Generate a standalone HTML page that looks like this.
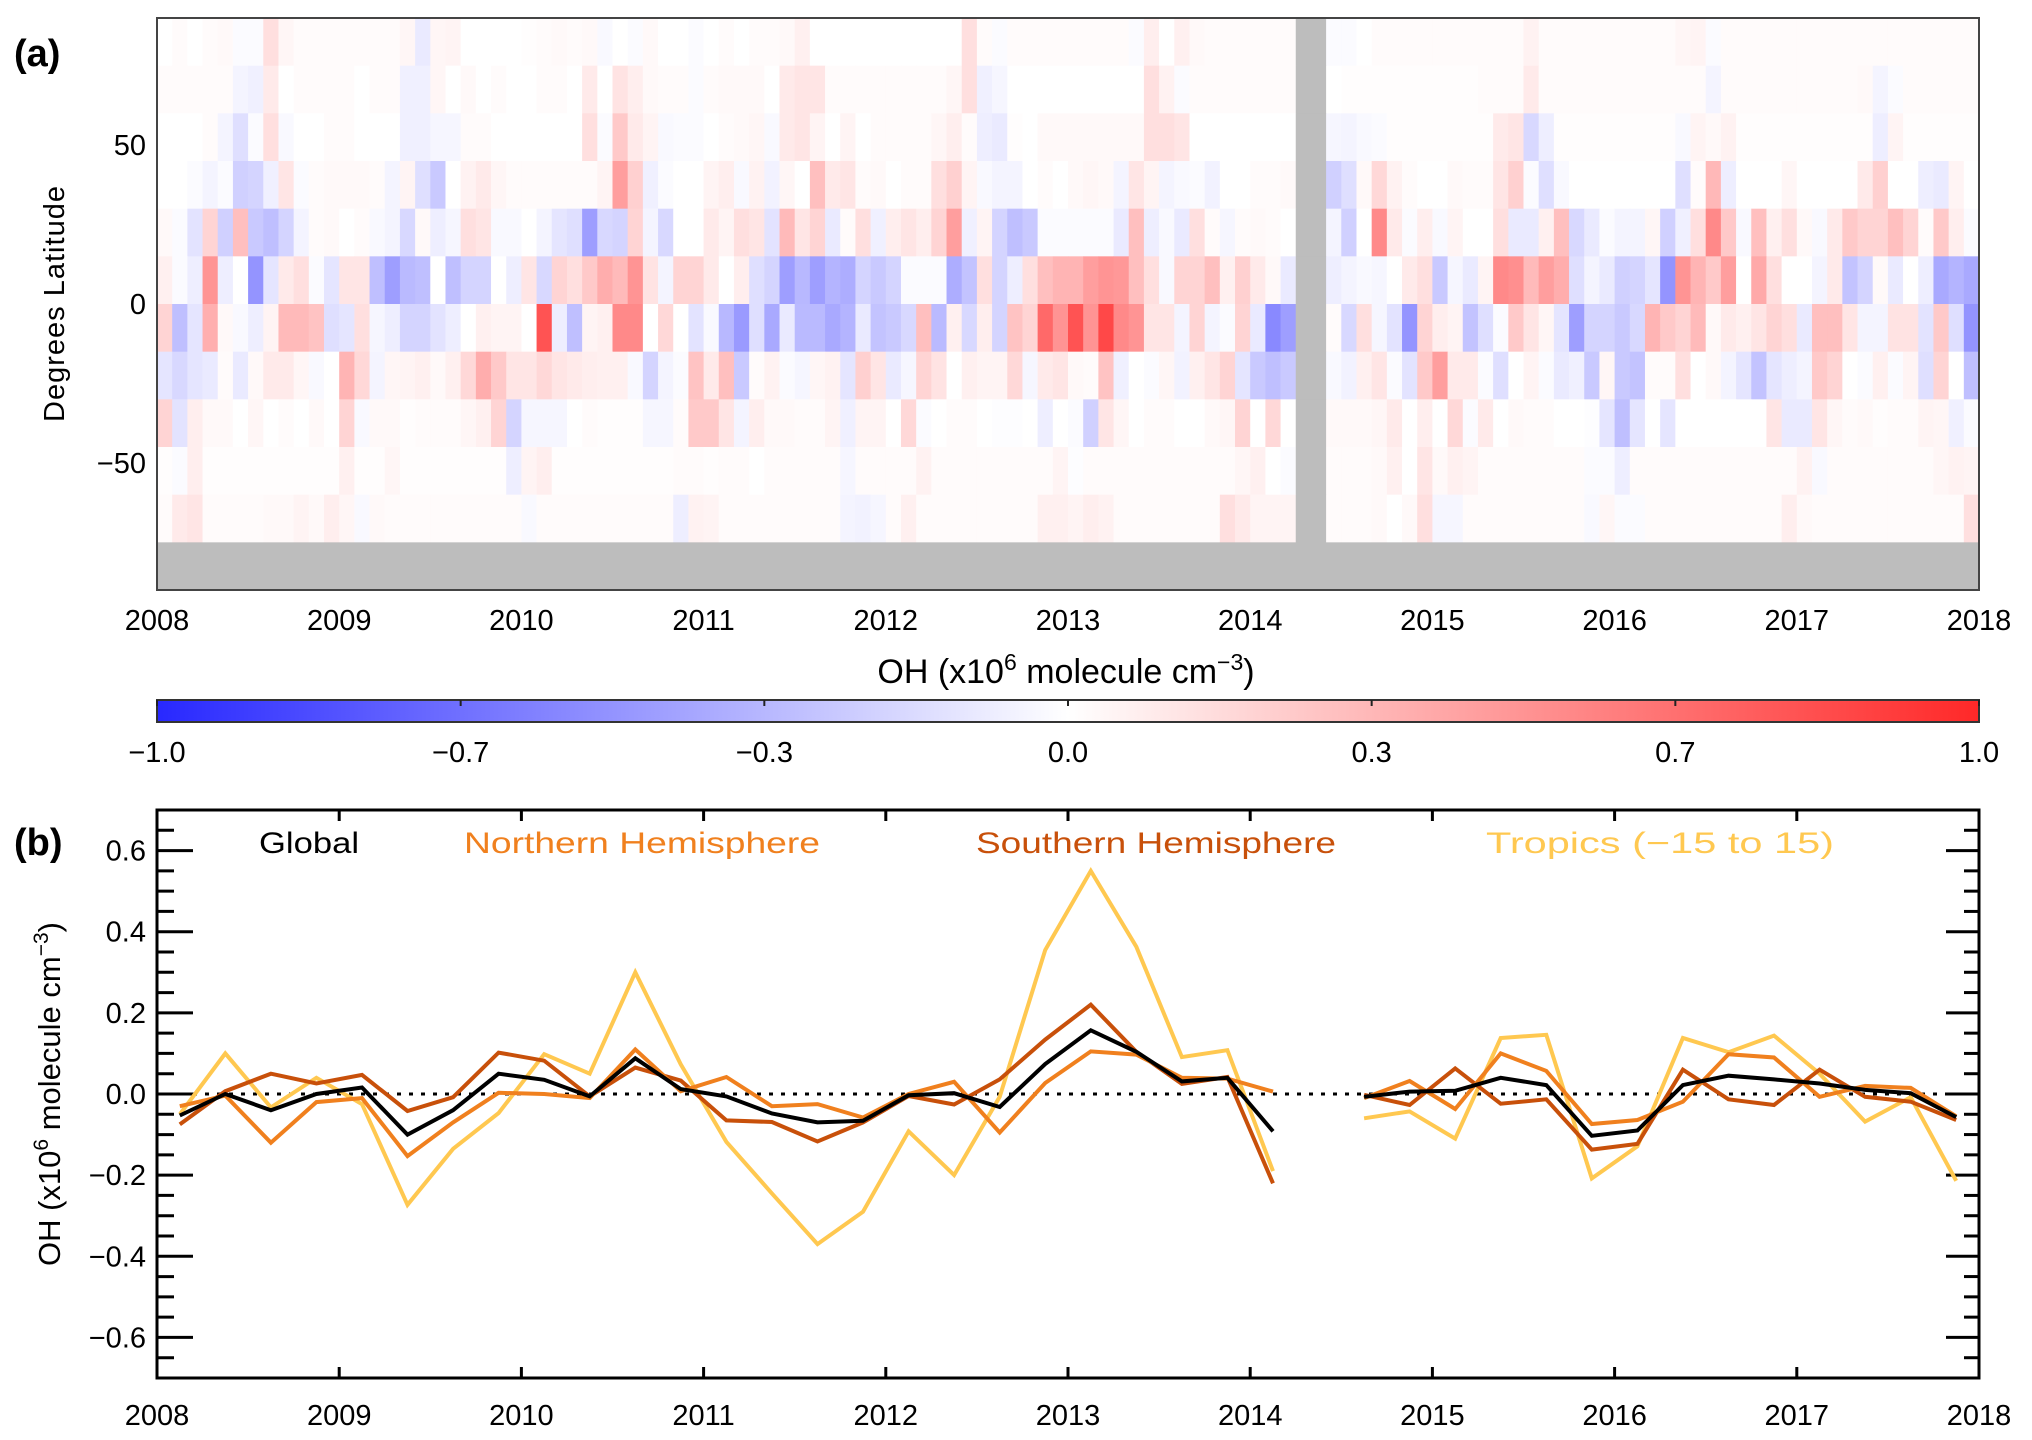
<!DOCTYPE html>
<html><head><meta charset="utf-8">
<style>
html,body{margin:0;padding:0;background:#fff;}
svg{display:block;font-family:"Liberation Sans","DejaVu Sans",sans-serif;}
</style></head>
<body>
<svg id="fig" width="2032" height="1440" viewBox="0 0 2032 1440" xmlns="http://www.w3.org/2000/svg">
<defs>
<linearGradient id="cbgrad" x1="0" x2="1" y1="0" y2="0">
<stop offset="0" stop-color="rgb(40,40,255)"/>
<stop offset="0.5" stop-color="rgb(255,255,255)"/>
<stop offset="1" stop-color="rgb(255,40,40)"/>
</linearGradient>
</defs>
<g id="heat"></g>
<g id="cbar"></g>
<g id="lines"></g>
</svg>
<script>
// ---------- Heatmap data (monthly anomalies, Jan 2008 .. Dec 2017), rows from 90N down to -75 ----------
const latBands = ["75-90N","60-75N","45-60N","30-45N","15-30N","0-15N","0-15S","15-30S","30-45S","45-60S","60-75S"];
const tickYears = [2008,2009,2010,2011,2012,2013,2014,2015,2016,2017,2018];
const latTicks = [50,0,-50];
const cbTickLabels = ["\u22121.0","\u22120.7","\u22120.3","0.0","0.3","0.7","1.0"];
const cbTickValues = [-1,-2/3,-1/3,0,1/3,2/3,1];
const row0 = [0,.02,0,.02,.03,-.02,-.02,.15,.04,.02, .02,.02,.02,.02,.02,.02,.04,-.1,.04,.05, 0,0,0,0,.01,.02,.03,.02,.03,-.03, 0,-.02,.03,0,0,-.02,0,.02,0,.02,
 .02,.03,.07,0,0,0,0,0,0,0, 0,0,0,.15,.02,-.02,.02,.02,.02,.02, .02,.02,.02,.02,-.02,.08,0,.07,.03,.02, .02,.02,.02,.02,.02,null,null,-.02,-.02,0,
 .02,.02,.02,.02,.02,.02,.02,.02,.02,.02, .06,.02,.02,.02,.02,.02,.02,.02,.02,.02, .04,.05,-.02,.02,.02,.02,.02,.02,.02,.02, .02,.02,.02,.02,.02,.02,.02,.02,.02,.02];
const row1 = [.02,.02,.02,.02,.02,-.05,-.07,.1,0,.02, .02,.02,.02,0,.02,.02,-.07,-.07,.04,0, .03,0,.02,0,0,.02,.02,0,.1,0, .13,.08,.03,.02,.02,-.02,.02,.03,.03,.03,
 0,.1,.12,.12,.02,.02,.02,.02,.02,.02, .02,.02,.04,.15,-.07,-.04,0,0,0,0, 0,0,0,0,0,.15,.06,-.02,.02,.02, .02,.02,.02,.02,.02,null,null,0,.01,.01,
 .01,.01,.01,.01,.01,.01,.01,.02,.02,.02, .1,.02,.02,.02,.02,.02,.02,.02,.02,.02, .02,.02,-.05,.02,.02,.02,.02,.02,.02,.02, .02,.02,.03,-.05,-.02,.02,.02,.02,.02,.02];
const row2 = [0,0,0,.02,-.05,-.15,-.02,.15,-.03,0, 0,.02,.02,0,0,0,-.07,-.07,-.04,-.04, .02,.02,0,0,0,0,0,0,.15,-.02, .25,.1,.05,-.03,-.02,-.02,0,.02,.03,.04,
 -.03,.1,.12,.05,0,.05,0,.02,.02,.02, .02,.04,.08,.02,-.08,-.1,.01,0,.03,.03, .03,.03,.03,.03,.03,.15,.15,.12,0,0, 0,0,0,0,0,null,null,-.04,-.05,-.03,
 -.02,.01,.01,.01,.01,.01,.01,.01,.1,.12, -.18,-.08,.01,.01,.01,.01,.01,.01,.01,.01, -.03,.05,.03,.06,.01,.01,.01,.01,.01,.01, .01,.01,.01,-.08,.05,.01,.01,.01,.01,.01];
const row3 = [0,0,-.02,-.05,-.02,-.22,-.2,-.07,.12,-.02, .02,.03,.03,.03,.02,-.05,.05,-.15,-.25,0, .06,.1,.04,.02,.02,.02,.02,.02,.02,.05, .45,.22,-.07,-.02,0,0,.05,.08,-.03,.06,
 -.06,.04,0,.3,.1,.12,.02,.03,0,.02, .02,.15,.22,.05,-.03,-.05,-.05,0,.02,0, .03,.04,.03,-.05,.12,.05,-.05,-.03,-.02,-.06, 0,0,.02,.02,.03,null,null,-.22,-.15,.03,
 .18,.06,.02,0,0,.03,.02,.02,.12,.22, -.02,-.15,-.03,0,0,0,0,0,0,0, -.15,.02,.33,-.08,0,0,0,.04,0,0, 0,0,.1,.22,0,0,-.08,-.1,.05,0];
const row4 = [.03,-.02,-.13,.2,-.22,.3,-.25,-.3,-.2,-.05, .02,.03,0,.02,-.03,-.05,-.18,.03,-.08,-.04, .15,.12,-.03,-.03,0,-.05,-.12,-.15,-.45,-.18, -.2,.2,-.05,-.18,0,0,.1,.05,.15,.12,
 -.13,.32,.12,.2,-.1,.02,.15,-.07,.08,.12, .08,.2,.45,-.07,.05,-.2,-.3,-.25,-.02,-.02, -.02,-.02,-.02,-.1,.3,-.08,-.03,-.1,.15,.02, -.04,.02,.03,.02,0,null,null,-.05,-.22,0,
 .55,.1,-.02,.08,-.03,.05,0,0,.15,-.1, -.1,.07,.3,-.18,-.1,-.02,-.05,-.05,.04,-.22, -.07,.15,.55,.25,-.03,.3,.07,.15,.03,-.03, .1,.25,.2,.2,.3,.2,.02,.25,.08,-.02];
const row5 = [.07,-.02,-.08,.5,-.08,0,-.5,-.12,.1,.15, -.02,-.12,.12,.12,-.3,-.45,-.32,-.3,0,-.3, -.2,-.2,0,-.08,.12,-.18,.2,.15,.25,.38, .32,.5,.13,-.05,.2,.2,.1,0,.08,-.15,
 -.2,-.45,-.33,-.45,-.35,-.38,-.2,-.25,-.2,-.02, -.02,-.02,-.38,-.28,.15,-.2,-.08,.15,.3,.35, .35,.45,.5,.48,.3,.15,-.03,.2,.2,.3, .07,.22,.1,.03,-.1,null,null,-.08,-.05,-.03,
 -.04,0,.1,.15,-.25,-.04,-.1,.05,.55,.52, .32,.45,.38,-.15,-.05,-.1,-.22,-.2,-.12,-.5, .5,.35,.25,.45,0,.4,.15,0,0,-.05, .1,-.28,-.2,.03,-.1,0,-.08,-.4,-.35,-.4];
const row6 = [.2,-.3,-.12,.37,.03,-.03,-.08,.05,.32,.32, .28,-.15,-.12,.15,-.04,-.08,-.2,-.2,-.13,-.08, 0,.07,.05,.05,0,.8,-.08,-.3,.05,.07, .55,.55,0,.18,0,-.13,-.03,-.33,-.47,-.15,
 -.4,-.1,-.32,-.32,-.4,-.35,-.1,-.28,-.25,-.18, .3,-.32,.07,-.18,.08,-.2,.28,.2,.7,.5, .8,.5,.85,.55,.5,.12,.12,-.05,.2,-.05, -.02,.2,-.1,-.55,-.45,null,null,.02,-.18,.15,
 -.04,-.13,-.5,.2,.08,.05,-.28,-.15,-.02,.25, .12,.04,-.12,-.45,-.2,-.2,-.25,-.18,.35,.25, .2,.32,.03,.1,.07,.12,.2,.15,-.1,.3, .3,.12,-.05,-.05,.13,.13,-.13,.25,-.15,-.5];
const row7 = [-.12,-.18,-.12,-.1,.02,-.1,.03,.1,.1,.04, -.03,0,.35,.18,-.05,.04,.05,.07,.03,.07, .18,.38,.25,.12,.12,.18,.12,.1,.08,.07, .07,-.03,-.2,-.05,-.02,.28,.1,.3,-.25,.02,
 .06,-.02,-.04,.04,.06,-.12,.22,.12,-.1,-.04, .2,.13,0,.07,.05,.05,.18,-.04,.1,.12, .03,.02,.28,-.07,0,-.02,.04,-.06,.07,.12, .2,-.12,-.25,-.3,-.25,null,null,-.03,-.06,.07,
 .12,-.02,-.13,.25,.45,.1,.1,-.02,-.15,0, .05,-.02,-.1,-.07,-.25,.04,-.25,-.28,.02,.02, .15,0,.03,-.05,-.12,-.28,-.12,-.08,-.05,.25, .2,0,-.02,.07,-.02,.05,-.15,.2,0,-.3];
const row8 = [.2,-.13,.08,.03,.03,0,.04,0,.02,0, .03,0,.2,-.03,.03,.03,.01,.02,.02,.02, .04,.07,.2,-.2,-.04,-.04,-.04,0,.02,.01, .01,.01,-.04,-.04,.02,.25,.25,.12,-.05,.08,
 .03,.03,.02,.02,.05,-.07,.05,.05,0,.18, -.02,0,.02,.02,0,-.01,-.01,0,-.08,0, -.02,-.22,.12,.04,0,.02,.02,0,0,.03, .04,.2,0,.18,0,null,null,.03,.03,.03,
 .04,.1,0,.08,0,.18,-.02,.1,0,.03, .02,.02,0,0,-.01,-.12,-.3,-.12,0,-.12, 0,0,0,0,0,0,.12,-.1,-.1,.12, .04,.02,.03,.01,.02,.02,.05,.04,-.07,-.02];
const row9 = [.01,-.02,.08,.01,.01,.01,.01,.01,.01,.01, .01,.01,.07,.01,.01,.04,.01,.01,.01,.01, .01,.01,.01,-.08,.05,.08,.01,.01,.01,.01, .01,.01,.01,.01,.02,.02,.01,.02,.02,0,
 .02,.02,.02,.02,.02,-.04,.02,.02,.02,.02, .06,.02,.02,.02,.02,.02,.02,.02,.02,.05, -.01,.02,.02,.02,.02,.02,.02,.02,.02,.02, .02,.04,.07,0,-.02,null,null,.02,.02,.02,
 .03,.07,0,.12,.03,.07,.05,.02,.02,.02, .02,.02,.02,.02,-.02,-.02,-.08,.02,.02,.02, .02,.02,.02,.02,.02,.02,.02,.02,.06,-.03, .02,.02,.02,.02,.02,.02,.02,.04,.06,.05];
const row10 = [.02,.1,.12,.02,.02,.02,.02,.03,.03,.05, .03,.08,.04,-.03,.03,.02,.02,.02,.02,.02, .02,.02,.02,.02,-.03,.02,.02,.02,.02,.02, .02,.02,.02,.02,-.08,.06,.05,.02,.02,.02,
 .02,.02,.02,.02,.02,-.05,-.06,-.04,.02,.07, .02,.02,.02,.02,.02,.02,.02,.02,.07,.07, .05,.08,.06,.02,.02,.02,.02,.02,.02,.02, .15,.1,.05,.05,.05,null,null,.02,.02,.02,
 .03,0,.03,.15,-.04,-.04,.02,.02,.02,.02, .02,.02,.02,.02,-.03,.04,-.02,-.02,.02,.02, .02,.02,.02,.02,.02,.02,.02,.08,.03,.02, .02,.02,.02,.02,.02,.02,.02,.02,.02,.15];
const heatRows = [row0,row1,row2,row3,row4,row5,row6,row7,row8,row9,row10];

// ---------- Line chart data (seasonal means, index 25 = data gap) ----------
const seasonIndex = Array.from({length:40},(_,i)=>i);
const globalVals = [-.053,0,-.04,0,.016,-.1,-.04,.05,.035,-.006,.088,.012,-.006,-.048,-.07,-.066,-.003,.002,-.032,.074,.157,.104,.031,.04,-.092,null,-.007,.006,.008,.04,.022,-.103,-.09,.022,.045,.036,.026,.01,.002,-.057];
const nhVals = [-.03,-.004,-.12,-.02,-.01,-.153,-.07,.003,0,-.01,.11,.007,.042,-.03,-.025,-.058,0,.03,-.095,.027,.105,.097,.04,.038,.006,null,-.01,.032,-.037,.1,.057,-.074,-.064,-.019,.098,.09,-.007,.02,.015,-.055];
const shVals = [-.075,.007,.05,.026,.047,-.042,-.008,.102,.082,-.006,.065,.033,-.065,-.069,-.117,-.07,-.005,-.026,.036,.134,.22,.104,.025,.042,-.22,null,-.002,-.027,.063,-.024,-.013,-.137,-.123,.06,-.013,-.027,.06,-.007,-.019,-.064];
const tropVals = [-.05,.1,-.033,.04,-.025,-.273,-.135,-.047,.098,.05,.3,.073,-.118,-.245,-.37,-.29,-.092,-.2,-.007,.355,.55,.363,.091,.108,-.19,null,-.06,-.043,-.11,.138,.146,-.208,-.129,.138,.103,.144,.05,-.068,-.008,-.214];
const ohTicks = [0.6,0.4,0.2,0.0,-0.2,-0.4,-0.6];
const ohTickLabels = ["0.6","0.4","0.2","0.0","\u22120.2","\u22120.4","\u22120.6"];

const NS="http://www.w3.org/2000/svg";
function mk(tag, attrs, parent){const e=document.createElementNS(NS,tag);for(const k in attrs)e.setAttribute(k,attrs[k]);parent.appendChild(e);return e;}

const X0=157, X1=1979;
const xYear = y => X0 + (y-2008)*(X1-X0)/10;
const HT=18, HB=590;
const yLat = l => HT + (90-l)*(HB-HT)/180;
const LT=810, LB=1378;
const yOH = v => LT + (0.7-v)*(LB-LT)/1.4;

function colorFor(v){
  const a=Math.min(1,Math.abs(v)); const c=Math.round(255-215*a);
  return v>=0?`rgb(255,${c},${c})`:`rgb(${c},${c},255)`;
}

// ===== Heatmap =====
const heat=document.getElementById('heat');
const heatBg = mk('rect',{x:X0,y:HT,width:X1-X0,height:HB-HT,fill:'#fff'},heat);


heatRows.forEach((row,r)=>{
  const latTop = 90-15*r, latBot = latTop-15;
  for(let m=0;m<120;m++){
    const v=row[m];
    const x=xYear(2008+m/12), w=xYear(2008+(m+1)/12)-x;
    const cell=mk('rect',{x:x.toFixed(2),y:yLat(latTop).toFixed(2),width:(w+0.4).toFixed(2),height:(yLat(latBot)-yLat(latTop)+0.4).toFixed(2),fill:(v===null||v===undefined)?'#bdbdbd':colorFor(v)},heat);
    
    
  }
});
const southGray=mk('rect',{x:X0,y:yLat(-75),width:X1-X0,height:yLat(-90)-yLat(-75),fill:'#bdbdbd'},heat);


const heatFrame=mk('rect',{x:X0,y:HT,width:X1-X0,height:HB-HT,fill:'none',stroke:'#444',"stroke-width":2},heat);


latTicks.forEach(l=>{
  const t=mk('text',{x:146,y:yLat(l)+10,"text-anchor":"end","font-size":29,fill:'#000'},heat);
  t.textContent = l<0?'\u2212'+Math.abs(l):String(l);
  
  
});
tickYears.forEach(yr=>{
  const t=mk('text',{x:xYear(yr),y:630,"text-anchor":"middle","font-size":29,fill:'#000'},heat);
  t.textContent=yr;
  
  
});
const ya=mk('text',{transform:`translate(64,${(HT+HB)/2}) rotate(-90)`,"text-anchor":"middle","font-size":29,textLength:236,fill:'#000'},heat);
ya.textContent='Degrees Latitude';


const pa=mk('text',{x:14,y:66,"font-size":38,"font-weight":"bold",fill:'#000'},heat);
pa.textContent='(a)';



// ===== Colorbar =====
const cb=document.getElementById('cbar');
const cbt=mk('text',{x:1066,y:683,"text-anchor":"middle","font-size":34,fill:'#000'},cb);
cbt.innerHTML='OH (x10<tspan dy="-13" font-size="23">6</tspan><tspan dy="13"> molecule cm</tspan><tspan dy="-13" font-size="23">\u22123</tspan><tspan dy="13">)</tspan>';


const cbr=mk('rect',{x:X0,y:700,width:X1-X0,height:22,fill:'url(#cbgrad)',stroke:'#333',"stroke-width":2},cb);


cbTickValues.forEach((v,i)=>{
  const x=X0+(v+1)/2*(X1-X0);
  const tk=mk('line',{x1:x,x2:x,y1:700,y2:706,stroke:'#222',"stroke-width":2},cb);
  
  
  const t=mk('text',{x:x,y:762,"text-anchor":"middle","font-size":29,fill:'#000'},cb);
  t.textContent=cbTickLabels[i];
  
  
});

// ===== Line panel =====
const lp=document.getElementById('lines');
const lframe=mk('rect',{x:X0,y:LT,width:X1-X0,height:LB-LT,fill:'none',stroke:'#000',"stroke-width":3},lp);


for(let k=-14;k<=14;k++){
  const v=k*0.05, y=yOH(v), major=(k%4===0);
  const L=major?36:17, R=major?33:15;
  const t1=mk('line',{x1:X0,x2:X0+L,y1:y,y2:y,stroke:'#000',"stroke-width":3},lp);
  
  
  const t2=mk('line',{x1:X1,x2:X1-R,y1:y,y2:y,stroke:'#000',"stroke-width":3},lp);
  
  
}
ohTicks.forEach((v,i)=>{
  const t=mk('text',{x:146,y:yOH(v)+10,"text-anchor":"end","font-size":29,fill:'#000'},lp);
  t.textContent=ohTickLabels[i];
  
  
});
tickYears.forEach(yr=>{
  const x=xYear(yr);
  const b=mk('line',{x1:x,x2:x,y1:LB,y2:LB-11,stroke:'#000',"stroke-width":3},lp);
  
  
  const tp=mk('line',{x1:x,x2:x,y1:LT,y2:LT+11,stroke:'#000',"stroke-width":3},lp);
  
  
  const t=mk('text',{x:x,y:1425,"text-anchor":"middle","font-size":29,fill:'#000'},lp);
  t.textContent=yr;
  
  
});
const zl=mk('line',{x1:X0,x2:X1,y1:yOH(0),y2:yOH(0),stroke:'#000',"stroke-width":3,"stroke-dasharray":"4 8"},lp);



const tOf = k => 2008.125 + 0.25*k;
function drawSeries(vals,color,name){
  let segs=[],cur=[];
  seasonIndex.forEach(k=>{
    const v=vals[k];
    if(v===null||v===undefined){ if(cur.length)segs.push(cur); cur=[]; }
    else cur.push(xYear(tOf(k)).toFixed(1)+','+yOH(v).toFixed(1));
  });
  if(cur.length)segs.push(cur);
  segs.forEach(s=>{
    const p=mk('polyline',{points:s.join(' '),fill:'none',stroke:color,"stroke-width":4,"stroke-linejoin":"miter"},lp);
    
    
  });
}
drawSeries(tropVals,'#ffc850','tropics-line');
drawSeries(shVals,'#c8500a','southern-hemisphere-line');
drawSeries(nhVals,'#f0801e','northern-hemisphere-line');
drawSeries(globalVals,'#000000','global-line');

const legend=[["Global","#000",259,100],["Northern Hemisphere","#f0801e",464,356],["Southern Hemisphere","#c8500a",976,360],["Tropics (\u221215 to 15)","#ffc850",1486,348]];
legend.forEach(l=>{
  const t=mk('text',{x:l[2],y:853,"font-size":30,fill:l[1],textLength:l[3],lengthAdjust:"spacingAndGlyphs"},lp);
  t.textContent=l[0];
  
  
});
const yb=mk('text',{transform:`translate(60,${yOH(0)}) rotate(-90)`,"text-anchor":"middle","font-size":31,fill:'#000'},lp);
yb.innerHTML='OH (x10<tspan dy="-12" font-size="21">6</tspan><tspan dy="12"> molecule cm</tspan><tspan dy="-12" font-size="21">\u22123</tspan><tspan dy="12">)</tspan>';


const pb=mk('text',{x:14,y:855,"font-size":38,"font-weight":"bold",fill:'#000'},lp);
pb.textContent='(b)';


</script>
</body></html>
